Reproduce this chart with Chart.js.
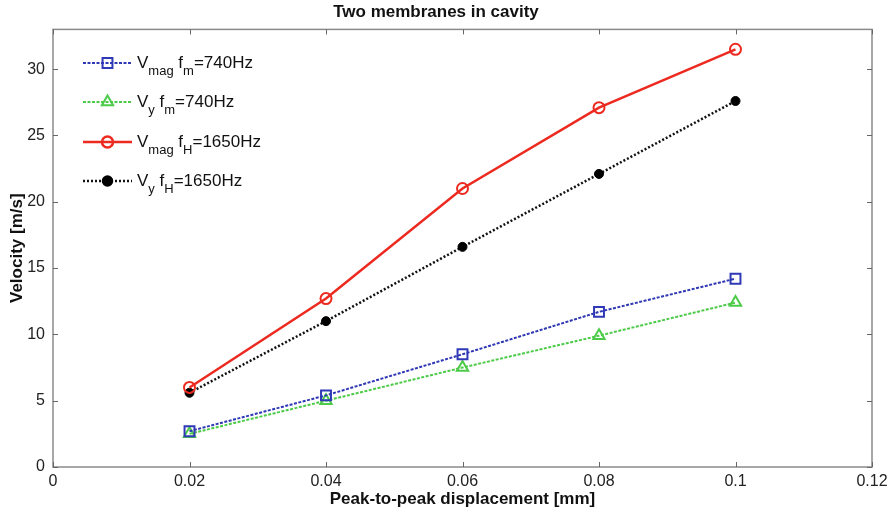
<!DOCTYPE html>
<html>
<head>
<meta charset="utf-8">
<script src="https://cdn.jsdelivr.net/npm/chart.js@4/dist/chart.umd.min.js"></script>
<style>
  html, body { margin: 0; padding: 0; background: #fff; }
  #wrap { width: 896px; height: 512px; position: relative; }
</style>
</head>
<body>
<div id="wrap"><canvas id="c" width="896" height="512"></canvas></div>
<script>
// Peak-to-peak displacement [mm]
const displacement = [0.02, 0.04, 0.06, 0.08, 0.1];
// Velocity [m/s] for each configuration
const vMagFm = [2.7, 5.4, 8.5, 11.7, 14.2];
const vYFm   = [2.5, 5.0, 7.5, 9.9, 12.4];
const vMagFh = [6.0, 12.7, 21.0, 27.1, 31.5];
const vYFh   = [5.6, 11.0, 16.6, 22.1, 27.6];
// Legend entries: [main, subscript, main, subscript, suffix]
const legendParts = [
  ['V', 'mag', ' f', 'm', '=740Hz'],
  ['V', 'y', ' f', 'm', '=740Hz'],
  ['V', 'mag', ' f', 'H', '=1650Hz'],
  ['V', 'y', ' f', 'H', '=1650Hz']
];
const xTicks = [0, 0.02, 0.04, 0.06, 0.08, 0.1, 0.12];
const yTicks = [0, 5, 10, 15, 20, 25, 30];

const pts = vals => displacement.map((x, i) => ({ x: x, y: vals[i] }));

const FONT = "'Liberation Sans', Arial, Helvetica, sans-serif";

// Frame on all four sides with inward-pointing ticks
const framePlugin = {
  id: 'frame',
  afterDatasetsDraw(chart) {
    const { ctx, chartArea: a, scales } = chart;
    ctx.save();
    ctx.strokeStyle = '#8a8a8a';
    ctx.lineWidth = 1.5;
    ctx.strokeRect(a.left, a.top, a.right - a.left, a.bottom - a.top);
    ctx.strokeStyle = '#666';
    ctx.lineWidth = 1;
    const len = 5;
    ctx.beginPath();
    xTicks.forEach(v => {
      const px = Math.round(scales.x.getPixelForValue(v)) + 0.5;
      ctx.moveTo(px, a.bottom); ctx.lineTo(px, a.bottom - len);
      ctx.moveTo(px, a.top); ctx.lineTo(px, a.top + len);
    });
    yTicks.forEach(v => {
      const py = Math.round(scales.y.getPixelForValue(v)) + 0.5;
      ctx.moveTo(a.left, py); ctx.lineTo(a.left + len, py);
      ctx.moveTo(a.right, py); ctx.lineTo(a.right - len, py);
    });
    ctx.stroke();
    ctx.restore();
  }
};

// Legend inside the axes, with subscripted labels
const subLegendPlugin = {
  id: 'subLegend',
  afterDraw(chart) {
    const { ctx } = chart;
    const x0 = 83, x1 = 132, tx = 137;
    const rows = [63, 102, 142, 181];
    chart.data.datasets.forEach((ds, i) => {
      const y = rows[i];
      ctx.save();
      ctx.strokeStyle = ds.borderColor;
      ctx.lineWidth = ds.borderWidth;
      ctx.setLineDash(ds.borderDash || []);
      ctx.beginPath();
      ctx.moveTo(x0, y); ctx.lineTo(x1, y);
      ctx.stroke();
      ctx.setLineDash([]);
      ctx.fillStyle = ds.pointBackgroundColor;
      ctx.strokeStyle = ds.pointBorderColor;
      Chart.helpers.drawPoint(ctx, {
        pointStyle: ds.pointStyle,
        radius: ds.pointRadius,
        rotation: 0,
        borderWidth: ds.pointBorderWidth
      }, (x0 + x1) / 2, y);
      ctx.restore();

      ctx.save();
      ctx.fillStyle = '#111';
      ctx.textBaseline = 'middle';
      let cx = tx;
      legendParts[i].forEach((part, j) => {
        const isSub = j === 1 || j === 3;
        ctx.font = (isSub ? '13px ' : '17px ') + FONT;
        ctx.fillText(part, cx, isSub ? y + 8 : y);
        cx += ctx.measureText(part).width;
      });
      ctx.restore();
    });
  }
};

new Chart(document.getElementById('c'), {
  type: 'line',
  data: {
    datasets: [
      {
        label: 'Vmag fm=740Hz',
        data: pts(vMagFm),
        borderColor: '#2f38b5',
        borderWidth: 2,
        borderDash: [3, 1.5],
        pointStyle: 'rect',
        pointRadius: 7,
        pointBorderWidth: 2,
        pointBorderColor: '#2f38b5',
        pointBackgroundColor: 'rgba(0,0,0,0)'
      },
      {
        label: 'Vy fm=740Hz',
        data: pts(vYFm),
        borderColor: '#4ccb48',
        borderWidth: 2,
        borderDash: [3, 1.5],
        pointStyle: 'triangle',
        pointRadius: 6.5,
        pointBorderWidth: 2,
        pointBorderColor: '#4ccb48',
        pointBackgroundColor: 'rgba(0,0,0,0)'
      },
      {
        label: 'Vmag fH=1650Hz',
        data: pts(vMagFh),
        borderColor: '#ec2a20',
        borderWidth: 2.5,
        pointStyle: 'circle',
        pointRadius: 5.5,
        pointBorderWidth: 2,
        pointBorderColor: '#ec2a20',
        pointBackgroundColor: 'rgba(0,0,0,0)'
      },
      {
        label: 'Vy fH=1650Hz',
        data: pts(vYFh),
        borderColor: '#111111',
        borderWidth: 2.5,
        borderDash: [2, 2],
        pointStyle: 'circle',
        pointRadius: 4.5,
        pointBorderWidth: 1,
        pointBorderColor: '#000',
        pointBackgroundColor: '#000'
      }
    ]
  },
  options: {
    responsive: false,
    animation: false,
    layout: { padding: { left: 0, right: 24, top: 0, bottom: 0 } },
    elements: { line: { tension: 0 } },
    plugins: {
      legend: { display: false },
      tooltip: { enabled: false },
      title: {
        display: true,
        text: 'Two membranes in cavity',
        color: '#111',
        font: { family: FONT, size: 17, weight: 'bold' },
        padding: { top: 2, bottom: 7 }
      }
    },
    scales: {
      x: {
        type: 'linear',
        min: 0,
        max: 0.12,
        afterFit(s) { s.height = 45; },
        afterBuildTicks(s) { s.ticks = xTicks.map(v => ({ value: v })); },
        grid: { display: false, drawTicks: false },
        border: { display: false },
        ticks: {
          padding: 5,
          color: '#222',
          font: { family: FONT, size: 16 },
          callback: v => String(Number(v.toFixed(2)))
        },
        title: {
          display: true,
          text: 'Peak-to-peak displacement [mm]',
          color: '#111',
          font: { family: FONT, size: 17, weight: 'bold' },
          padding: { top: 0, bottom: 2 }
        }
      },
      y: {
        type: 'linear',
        min: 0,
        max: 33,
        afterFit(s) { s.width = 53; },
        afterBuildTicks(s) { s.ticks = yTicks.map(v => ({ value: v })); },
        grid: { display: false, drawTicks: false },
        border: { display: false },
        ticks: {
          padding: 8,
          color: '#222',
          font: { family: FONT, size: 16 }
        },
        title: {
          display: true,
          text: 'Velocity [m/s]',
          color: '#111',
          font: { family: FONT, size: 17, weight: 'bold' },
          padding: { top: 7, bottom: 0 }
        }
      }
    }
  },
  plugins: [framePlugin, subLegendPlugin]
});
</script>
</body>
</html>
